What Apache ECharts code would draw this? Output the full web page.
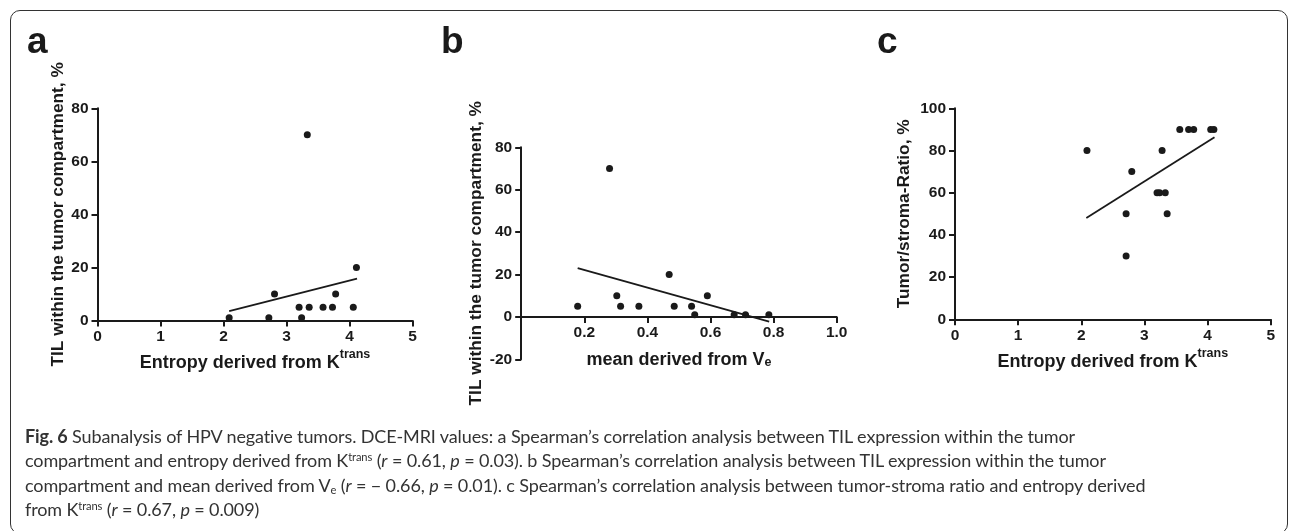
<!DOCTYPE html>
<html>
<head>
<meta charset="utf-8">
<script src="https://cdn.jsdelivr.net/npm/echarts@6/dist/echarts.min.js"></script>
<style>
  html, body { margin: 0; padding: 0; background: #fff; }
  #frame {
    position: absolute; left: 10px; top: 10px; width: 1278px; height: 524px;
    border: 1.5px solid #333; border-radius: 10px; box-sizing: border-box;
  }
  #chart { position: absolute; left: 0; top: 0; width: 1290px; height: 531px; }
  #caption {
    position: absolute; left: 25px; top: 424px; width: 1250px;
    font-family: Lato, 'Open Sans', sans-serif; font-size: 18px; line-height: 24.3px;
    color: #333; white-space: nowrap; letter-spacing: -0.12px;
  }
  #caption sup, #caption sub { font-size: 0.62em; line-height: 0; }
  #caption sup { vertical-align: 0.55em; }
  #caption sub { vertical-align: -0.2em; }
</style>
</head>
<body>
<div id="frame"></div>
<div id="chart"></div>
<div id="caption"><b>Fig. 6</b> Subanalysis of HPV negative tumors. DCE-MRI values: a Spearman’s correlation analysis between TIL expression within the tumor<br>compartment and entropy derived from K<sup>trans</sup> (<i>r</i> = 0.61, <i>p</i> = 0.03). b Spearman’s correlation analysis between TIL expression within the tumor<br>compartment and mean derived from V<sub>e</sub> (<i>r</i> = − 0.66, <i>p</i> = 0.01). c Spearman’s correlation analysis between tumor-stroma ratio and entropy derived<br>from K<sup>trans</sup> (<i>r</i> = 0.67, <i>p</i> = 0.009)</div>
<script>
// panel a: TIL vs entropy of Ktrans
var aEntropy = [2.09, 2.72, 2.81, 3.20, 3.24, 3.33, 3.36, 3.58, 3.73, 3.78, 4.06, 4.11]
var aTil = [1, 1, 10, 5, 1, 70, 5, 5, 5, 10, 5, 20]
var aFitX = [2.09, 4.12]
var aFitY = [3.5, 15.8]

// panel b: TIL vs mean Ve
var bMean = [0.179, 0.280, 0.303, 0.315, 0.373, 0.469, 0.485, 0.540, 0.550, 0.590, 0.675, 0.711, 0.785]
var bTil = [5, 70, 10, 5, 5, 20, 5, 5, 1, 10, 1, 1, 1]
var bFitX = [0.179, 0.786]
var bFitY = [23.0, -2.2]

// panel c: tumor/stroma ratio vs entropy of Ktrans
var cEntropy = [2.09, 2.71, 2.71, 2.80, 3.20, 3.24, 3.28, 3.33, 3.36, 3.56, 3.70, 3.78, 4.05, 4.10]
var cRatio = [80, 50, 30, 70, 60, 60, 80, 60, 50, 90, 90, 90, 90, 90]
var cFitX = [2.08, 4.11]
var cFitY = [48.0, 86.3]

var panelLetters = ['a', 'b', 'c']
var xNames = ['{n|Entropy derived from K}{sup|trans}', '{n|mean derived from V}{sub|e}', '{n|Entropy derived from K}{sup|trans}']
var yNames = ['TIL within the tumor compartment, %', 'TIL within the tumor compartment, %', 'Tumor/stroma-Ratio, %']

var ink = '#1a1a1a'
var font = 'Liberation Sans, Arial, sans-serif'
var labelStyle = { color: ink, fontFamily: font, fontWeight: 'bold', fontSize: 15.5 }

function pairs(xs, ys) {
  return xs.map(function (x, i) { return [x, ys[i]] })
}

function axisBase(extra, labelExtra, nameSize) {
  var base = {
    type: 'value',
    splitLine: { show: false },
    axisLine: { show: true, onZero: false, lineStyle: { color: ink, width: 2 } },
    axisTick: { show: true, inside: false, length: 6, lineStyle: { color: ink, width: 2 } },
    axisLabel: Object.assign({}, labelStyle, labelExtra),
    nameLocation: 'middle',
    nameTextStyle: {
      color: ink, fontFamily: font, fontWeight: 'bold', fontSize: nameSize,
      rich: {
        n: { color: ink, fontFamily: font, fontWeight: 'bold', fontSize: nameSize, lineHeight: 24, verticalAlign: 'bottom' },
        sup: { color: ink, fontFamily: font, fontWeight: 'bold', fontSize: 12.5, lineHeight: 13, verticalAlign: 'top' },
        sub: { color: ink, fontFamily: font, fontWeight: 'bold', fontSize: 12.5, lineHeight: 13, verticalAlign: 'bottom' }
      }
    }
  }
  return Object.assign(base, extra)
}

var chart = echarts.init(document.getElementById('chart'))

var option = {
  animation: false,
  grid: [
    { left: 97.5, top: 108.3, width: 315, height: 212.2 },
    { left: 521.2, top: 147.3, width: 315.5, height: 212 },
    { left: 955, top: 108.3, width: 315.7, height: 211 }
  ],
  xAxis: [
    axisBase({ gridIndex: 0, min: 0, max: 5, interval: 1, name: xNames[0], nameGap: 28 }, { margin: 8 }, 18),
    // x axis of panel b crosses the y axis at 0, so it is lifted into the grid
    axisBase({ gridIndex: 1, min: 0, max: 1, interval: 0.2, name: xNames[1], nameGap: 28, offset: -42.4 },
      { margin: 8, showMinLabel: false, formatter: function (v) { return v.toFixed(1) } }, 18),
    axisBase({ gridIndex: 2, min: 0, max: 5, interval: 1, name: xNames[2], nameGap: 28 }, { margin: 8 }, 18)
  ],
  yAxis: [
    axisBase({ gridIndex: 0, min: 0, max: 80, interval: 20, name: yNames[0], nameGap: 31 }, { margin: 9 }, 17.3),
    axisBase({ gridIndex: 1, min: -20, max: 80, interval: 20, name: yNames[1], nameGap: 36 }, { margin: 9 }, 17.3),
    axisBase({ gridIndex: 2, min: 0, max: 100, interval: 20, name: yNames[2], nameGap: 42 }, { margin: 9 }, 17.3)
  ],
  series: [
    { type: 'scatter', xAxisIndex: 0, yAxisIndex: 0, symbolSize: 7, itemStyle: { color: ink, opacity: 1 }, data: pairs(aEntropy, aTil) },
    { type: 'line', xAxisIndex: 0, yAxisIndex: 0, showSymbol: false, lineStyle: { color: ink, width: 1.8 }, data: pairs(aFitX, aFitY) },
    { type: 'scatter', xAxisIndex: 1, yAxisIndex: 1, symbolSize: 7, itemStyle: { color: ink, opacity: 1 }, data: pairs(bMean, bTil) },
    { type: 'line', xAxisIndex: 1, yAxisIndex: 1, showSymbol: false, lineStyle: { color: ink, width: 1.8 }, data: pairs(bFitX, bFitY) },
    { type: 'scatter', xAxisIndex: 2, yAxisIndex: 2, symbolSize: 7, itemStyle: { color: ink, opacity: 1 }, data: pairs(cEntropy, cRatio) },
    { type: 'line', xAxisIndex: 2, yAxisIndex: 2, showSymbol: false, lineStyle: { color: ink, width: 1.8 }, data: pairs(cFitX, cFitY) }
  ],
  graphic: [
    { type: 'text', left: 27, top: 24, style: { text: panelLetters[0], font: 'bold 37px ' + font, fill: ink } },
    { type: 'text', left: 441, top: 24, style: { text: panelLetters[1], font: 'bold 37px ' + font, fill: ink } },
    { type: 'text', left: 877, top: 24, style: { text: panelLetters[2], font: 'bold 37px ' + font, fill: ink } }
  ]
}

chart.setOption(option)
</script>
</body>
</html>
